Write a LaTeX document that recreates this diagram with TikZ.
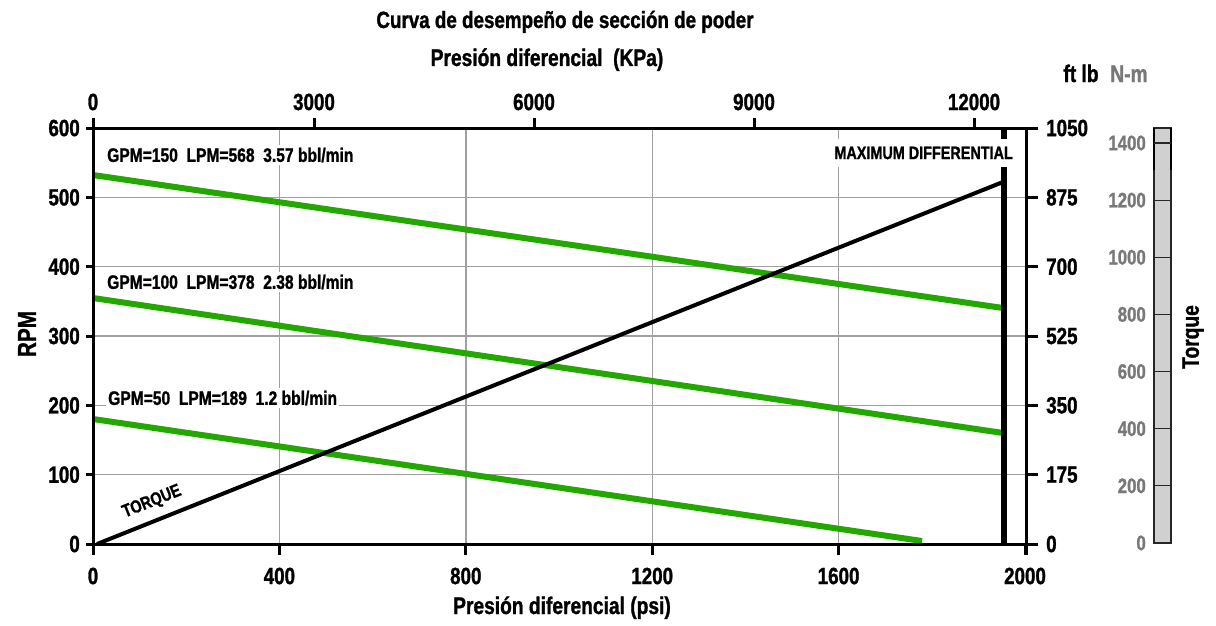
\documentclass[tikz,border=0pt]{standalone}
\usepackage{fontspec}
\setmainfont{Liberation Sans}[FakeStretch=0.8, BoldFont={Liberation Sans Bold}, BoldFeatures={FakeStretch=0.8, FakeBold=1.2}]
\definecolor{flowgreen}{RGB}{34,168,0}
\definecolor{gridgray}{RGB}{160,160,160}
\definecolor{labgray}{RGB}{120,120,120}
\definecolor{barfill}{RGB}{208,208,208}
\newcommand\fsz[1]{\fontsize{#1}{#1}\selectfont\bfseries}
\begin{document}
\begin{tikzpicture}[x=1pt,y=-1pt,
  lab/.style={inner sep=0pt, font=\fsz{24}},
  num/.style={inner sep=0pt, font=\fsz{23.5}},
  gnum/.style={inner sep=0pt, font=\fsz{21}, text=labgray, anchor=east},
  gpm/.style={fill=white, inner xsep=2pt, inner ysep=3pt, font=\fsz{19.5}, anchor=west},
  gridline/.style={draw=gridgray, line width=1.4pt},
  axisline/.style={draw=black, line width=3pt},
  flow/.style={draw=flowgreen, line width=6pt},
  torqueline/.style={draw=black, line width=4pt},
  maxline/.style={draw=black, line width=6pt},
  barline/.style={draw=black!85, line width=1.2pt}]
\useasboundingbox (0,0) rectangle (1216,626);

% grid
\foreach \p/\n in {400/a,800/b,1200/c,1600/d}{
  \coordinate (gv\n t) at ({93+\p*0.466},128);
  \coordinate (gv\n b) at ({93+\p*0.466},544);
  \draw[gridline] (gv\n t) -- (gv\n b);
}
\foreach \r/\n in {100/a,200/b,300/c,400/d,500/e}{
  \coordinate (gh\n l) at (93,{544-\r*0.6933});
  \coordinate (gh\n r) at (1026,{544-\r*0.6933});
  \draw[gridline] (gh\n l) -- (gh\n r);
}

% flow curves
\coordinate (f150a) at (93,175);  \coordinate (f150b) at (1003,308);
\coordinate (f100a) at (93,298);  \coordinate (f100b) at (1003,433);
\coordinate (f50a) at (93,419);   \coordinate (f50b) at (922,541);
\draw[flow] (f150a) -- (f150b);
\draw[flow] (f100a) -- (f100b);
\draw[flow] (f50a) -- (f50b);

% torque line
\coordinate (tq0) at (97,544);
\coordinate (tq1) at (1003,182);
\draw[torqueline] (tq0) -- (tq1);

% maximum differential
\coordinate (mxt) at (1004,128);
\coordinate (mxb) at (1004,544);
\draw[maxline] (mxt) -- (mxb);
\node[fill=white, inner xsep=1pt, inner ysep=8pt, font=\fsz{18}, anchor=east] (maxlab) at (1014,153) {MAXIMUM DIFFERENTIAL};

% flow labels
\node[gpm] (l150) at (105,155) {GPM=150\ \ LPM=568\ \ 3.57 bbl/min};
\node[gpm] (l100) at (105,282) {GPM=100\ \ LPM=378\ \ 2.38 bbl/min};
\node[gpm] (l50)  at (106,398) {GPM=50\ \ LPM=189\ \ 1.2 bbl/min};

\node[inner sep=0pt, font=\fsz{18}, rotate=21.8] (tqlab) at (152,502) {TORQUE};

% axes
\coordinate (ax00) at (93,544);
\coordinate (ax0t) at (93,118);
\coordinate (axbr) at (1038,544);
\coordinate (axtl) at (93,128);
\coordinate (axtr) at (1038,128);
\coordinate (axrt) at (1026,128);
\coordinate (axrb) at (1026,555);
\draw[axisline] (ax00) -- (ax0t);
\draw[axisline] (ax00) -- (axbr);
\draw[axisline] (axtl) -- (axtr);
\draw[axisline] (axrt) -- (axrb);

% left / right ticks and labels
\foreach \r/\t in {0/0,100/175,200/350,300/525,400/700,500/875,600/1050}{
  \coordinate (lt\r) at (86,{544-\r*0.6933});
  \coordinate (ltx\r) at (93,{544-\r*0.6933});
  \coordinate (rt\r) at (1026,{544-\r*0.6933});
  \coordinate (rtx\r) at (1038,{544-\r*0.6933});
  \draw[axisline] (lt\r) -- (ltx\r);
  \draw[axisline] (rt\r) -- (rtx\r);
  \node[num, anchor=east] (ln\r) at (80,{544-\r*0.6933}) {\r};
  \node[num, anchor=west] (rn\r) at (1046,{544-\r*0.6933}) {\t};
}

% bottom ticks and labels
\foreach \p in {0,400,800,1200,1600,2000}{
  \coordinate (bt\p) at ({93+\p*0.466},544);
  \coordinate (btx\p) at ({93+\p*0.466},555);
  \draw[axisline] (bt\p) -- (btx\p);
  \node[num] (bn\p) at ({93+\p*0.466},576) {\p};
}

% top ticks and labels
\foreach \k/\x in {0/93,3000/314,6000/534,9000/754,12000/974}{
  \coordinate (tt\k) at (\x,128);
  \coordinate (ttx\k) at (\x,118);
  \draw[axisline] (tt\k) -- (ttx\k);
  \node[num] (tn\k) at (\x,102) {\k};
}

% titles
\node[lab, anchor=base, font=\fsz{23.5}] (title) at (565,28) {Curva de desempeño de sección de poder};
\node[lab, anchor=base] (kpa) at (547,66) {Presión diferencial\ \ (KPa)};
\node[lab, anchor=base] (psi) at (562,614) {Presión diferencial (psi)};
\node[lab, font=\fsz{26}, rotate=90] (rpm) at (27,334) {RPM};
\node[lab, anchor=base] (ftlb) at (1081,82) {ft lb};
\node[lab, anchor=base, text=labgray] (nm) at (1129,82) {N-m};
\node[lab, rotate=90] (torque) at (1193,337) {Torque};

% torque bar (N-m)
\coordinate (barA) at (1154,128);
\coordinate (barB) at (1171,543);
\draw[barline, fill=barfill] (barA) rectangle (barB);
\coordinate (barLt) at (1154,128); \coordinate (barLb) at (1154,170);
\coordinate (barRt) at (1171,128); \coordinate (barRb) at (1171,170);
\draw[draw=black, line width=2.4pt] (barLt) -- (barLb);
\draw[draw=black, line width=2.4pt] (barRt) -- (barRb);
\foreach \v in {0,200,400,600,800,1000,1200,1400}{
  \coordinate (bl\v) at (1154,{543-\v*0.2857});
  \coordinate (br\v) at (1171,{543-\v*0.2857});
  \draw[barline] (bl\v) -- (br\v);
  \node[gnum] (gn\v) at (1146,{543-\v*0.2857}) {\v};
}
\end{tikzpicture}
\end{document}
